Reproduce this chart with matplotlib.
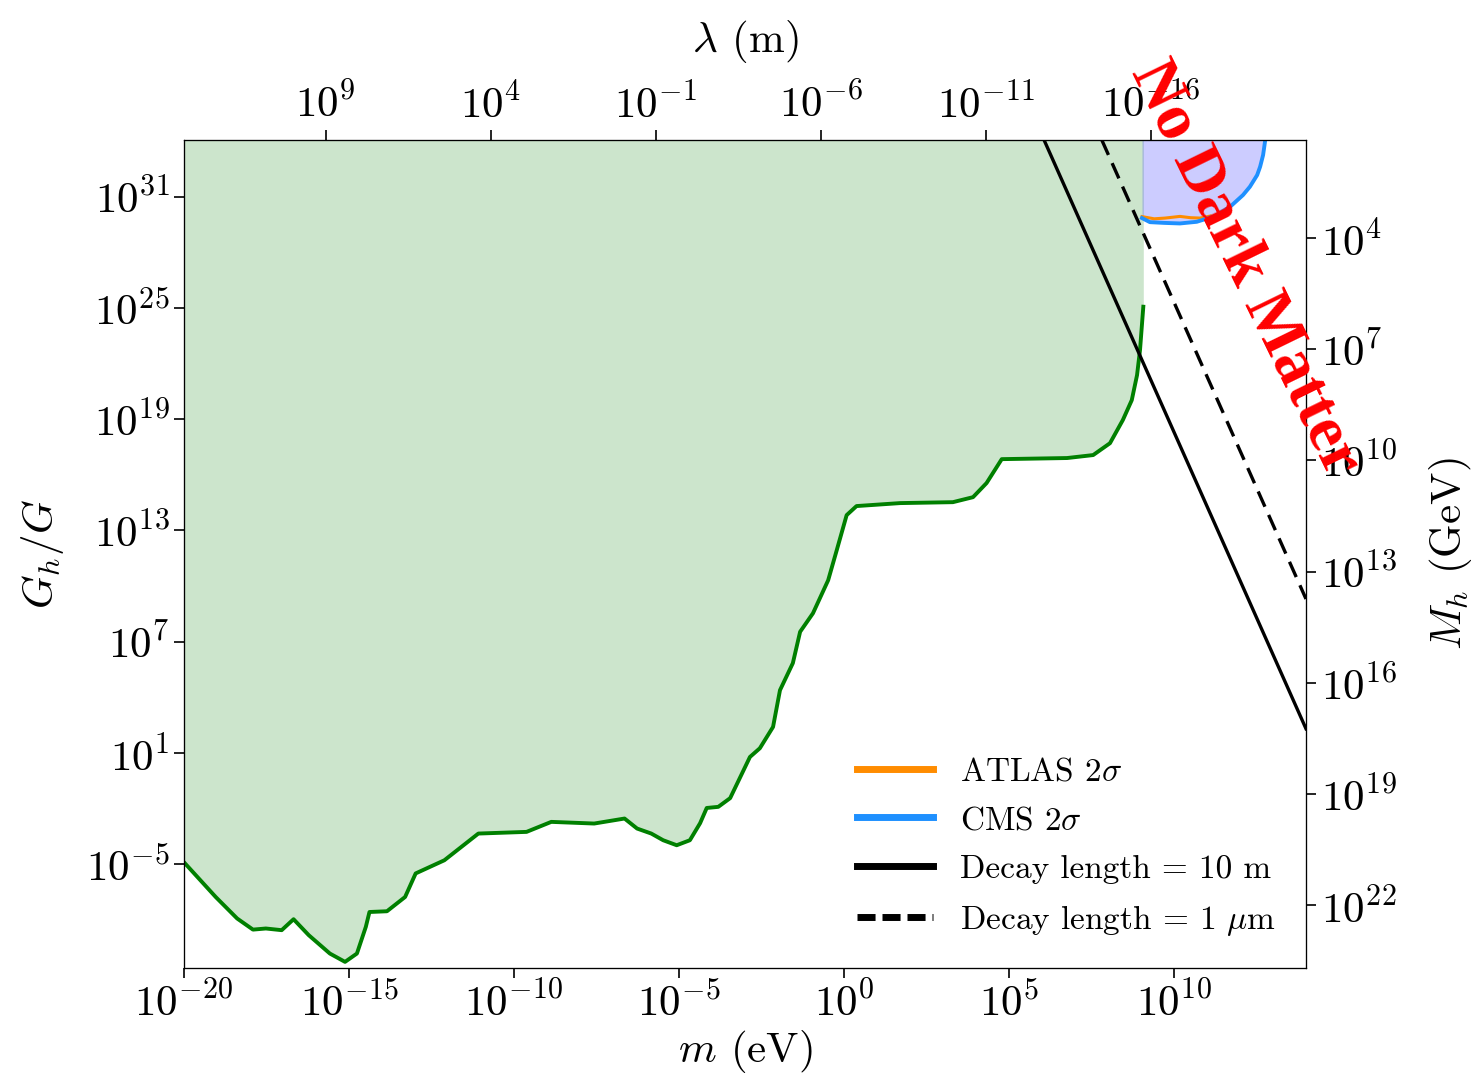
import numpy as np
import matplotlib.pyplot as plt
from matplotlib.ticker import FixedLocator, FuncFormatter, NullLocator

plt.rcParams['font.family'] = 'serif'
plt.rcParams['font.serif'] = ['cmr10']
plt.rcParams['mathtext.fontset'] = 'cm'
plt.rcParams['axes.unicode_minus'] = False
plt.rcParams['axes.formatter.use_mathtext'] = True

# constants for the secondary axes
hbarc = 1.973e-7       # eV m
m_pl_red = 2.435e18    # GeV

# fifth force bound (log10 m [eV], log10 G_h/G)
bound_logm = [-20.0, -19.04, -18.39, -17.91, -17.52, -17.04, -16.68, -16.22, -15.58, -15.12,
              -14.76, -14.49, -14.38, -13.85, -13.30, -12.98, -12.11, -11.08, -9.62, -8.87,
              -7.57, -6.65, -6.27, -5.84, -5.48, -5.07, -4.67, -4.36, -4.16, -3.81,
              -3.45, -2.85, -2.55, -2.15, -1.94, -1.55, -1.33, -0.94, -0.48, -0.22,
              0.08, 0.38, 1.70, 3.30, 3.91, 4.32, 4.78, 6.76, 7.55, 8.06,
              8.45, 8.72, 8.88, 8.97, 9.07]
bound_logG = [-4.9, -6.77, -7.93, -8.53, -8.47, -8.56, -7.97, -8.83, -9.82, -10.27,
              -9.82, -8.38, -7.58, -7.54, -6.77, -5.5, -4.79, -3.35, -3.26, -2.72,
              -2.81, -2.54, -3.08, -3.35, -3.71, -3.98, -3.71, -2.79, -1.97, -1.91,
              -1.44, 0.78, 1.25, 2.4, 4.38, 5.84, 7.53, 8.53, 10.31, 11.93,
              13.82, 14.31, 14.47, 14.52, 14.79, 15.55, 16.84, 16.9, 17.06, 17.7,
              18.95, 20.02, 21.37, 22.72, 25.06]

# collider bounds
cms_logm = [9.03, 9.27, 9.70, 10.18, 10.69, 11.24, 11.70, 12.09, 12.30, 12.52, 12.61, 12.70, 12.76, 12.80]
cms_logG = [29.84, 29.62, 29.58, 29.55, 29.64, 29.95, 30.45, 31.08, 31.53, 32.16, 32.61, 33.24, 33.99, 34.6]
atlas_logm = [9.03, 9.40, 9.73, 10.18, 10.50, 10.79, 11.10]
atlas_logG = [29.92, 29.80, 29.84, 29.93, 29.86, 29.84, 29.95]

# decay length lines
decay_logm = [5.0, 14.0]
decay10m_logG = [38.3, 2.3]
decay1um_logG = [45.3, 9.3]

x_ticks = [-20, -15, -10, -5, 0, 5, 10]
y_ticks = [-5, 1, 7, 13, 19, 25, 31]
lam_ticks = [9, 4, -1, -6, -11, -16]
mh_ticks = [4, 7, 10, 13, 16, 19, 22]

xlo, xhi = 1e-20, 1e14
ylo, yhi = 10**-10.6, 10**34.05

fig = plt.figure(figsize=(14.82, 10.87), dpi=100)
ax = fig.add_axes([184/1482, 1-968/1087, 1122/1482, 828/1087])
ax.set_xscale('log')
ax.set_yscale('log')

m = 10.0**np.array(bound_logm)
G = 10.0**np.array(bound_logG)
ax.fill_between(m, G, 1e40, color='green', alpha=0.2, lw=0)
ax.plot(m, G, color='green', lw=2.8, solid_joinstyle='round')

cm = 10.0**np.array(cms_logm)
cG = 10.0**np.array(cms_logG)
ax.fill_between(cm, cG, 1e40, color='blue', alpha=0.2, lw=0)
ax.plot(10.0**np.array(atlas_logm), 10.0**np.array(atlas_logG), color='darkorange', lw=2.2,
        label=r'ATLAS $2\sigma$')
ax.plot(cm, cG, color='dodgerblue', lw=2.8, label=r'CMS $2\sigma$')

dm = 10.0**np.array(decay_logm)
ax.plot(dm, 10.0**np.array(decay10m_logG), color='black', lw=2.4, label=r'Decay length = 10 m')
ax.plot(dm, 10.0**np.array(decay1um_logG), color='black', lw=2.4, dashes=(5, 2.7),
        label=r'Decay length = 1 $\mu$m')

ax.set_xlim(xlo, xhi)
ax.set_ylim(ylo, yhi)
ax.xaxis.set_major_locator(FixedLocator([10.0**k for k in x_ticks]))
ax.yaxis.set_major_locator(FixedLocator([10.0**k for k in y_ticks]))
ax.xaxis.set_minor_locator(NullLocator())
ax.yaxis.set_minor_locator(NullLocator())

fmt = FuncFormatter(lambda v, p: r'$10^{%d}$' % int(round(np.log10(v))))
ax.xaxis.set_major_formatter(fmt)
ax.yaxis.set_major_formatter(fmt)
ax.tick_params(labelsize=31, length=7, width=1.2)
ax.set_xlabel(r'$m$ (eV)', fontsize=31, labelpad=2)
ax.set_ylabel(r'$G_h/G$', fontsize=31, labelpad=14)

leg = ax.legend(loc='lower right', bbox_to_anchor=(1.0, 0.0), frameon=False, fontsize=24,
                handlelength=2.3, handletextpad=0.8, labelspacing=0.58)
for ln in leg.get_lines():
    ln.set_linewidth(5)
leg.get_lines()[3].set_dashes([2.6, 1.0])

# top axis: wavelength
axt = ax.twiny()
axt.set_xscale('log')
axt.set_xlim(hbarc / xlo, hbarc / xhi)
axt.xaxis.set_major_locator(FixedLocator([10.0**k for k in lam_ticks]))
axt.xaxis.set_minor_locator(NullLocator())
axt.xaxis.set_major_formatter(fmt)
axt.tick_params(labelsize=31, length=7, width=1.2)
axt.set_xlabel(r'$\lambda$ (m)', fontsize=31, labelpad=22)

# right axis: mediator mass
axr = ax.twinx()
axr.set_yscale('log')
axr.set_ylim(m_pl_red / np.sqrt(ylo), m_pl_red / np.sqrt(yhi))
axr.yaxis.set_major_locator(FixedLocator([10.0**k for k in mh_ticks]))
axr.yaxis.set_minor_locator(NullLocator())
axr.yaxis.set_major_formatter(fmt)
axr.tick_params(labelsize=31, length=7, width=1.2)
axr.set_ylabel(r'$M_h$ (GeV)', fontsize=31, labelpad=22)

fig.text(1245/1482, 1-268/1087, 'No Dark Matter', color='red', fontsize=47,
         family=['Liberation Serif'], weight='bold',
         rotation=-64, ha='center', va='center', rotation_mode='anchor')

fig.savefig('out.png', dpi=100)
